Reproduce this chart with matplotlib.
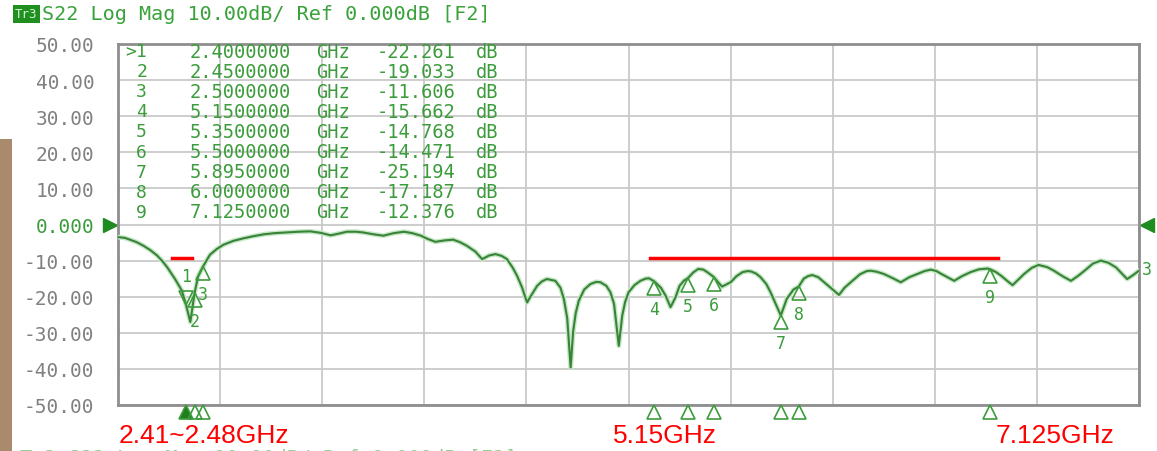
import matplotlib.pyplot as plt
from matplotlib.patches import Rectangle
from matplotlib.transforms import offset_copy, blended_transform_factory

# trace (GHz, dB)
freq = [2.00, 2.04, 2.07, 2.11, 2.15, 2.19, 2.23, 2.26, 2.29, 2.335, 2.375, 2.40, 2.425,
        2.45, 2.47, 2.50, 2.54, 2.58, 2.62, 2.68, 2.74, 2.80, 2.86, 2.92, 2.99, 3.06, 3.13,
        3.19, 3.25, 3.30, 3.345, 3.40, 3.44, 3.50, 3.56, 3.62, 3.68, 3.73, 3.78, 3.82,
        3.865, 3.92, 3.97, 4.01, 4.05, 4.10, 4.14, 4.18, 4.218, 4.255, 4.286, 4.32, 4.345,
        4.375, 4.404, 4.43, 4.463, 4.49, 4.52, 4.57, 4.60, 4.62, 4.64, 4.66, 4.675, 4.69,
        4.708, 4.74, 4.776, 4.81, 4.835, 4.87, 4.894, 4.915, 4.943, 4.963, 4.98, 5.00,
        5.035, 5.07, 5.10, 5.12, 5.15, 5.19, 5.218, 5.247, 5.276, 5.30, 5.325, 5.35, 5.38,
        5.41, 5.44, 5.463, 5.50, 5.525, 5.55, 5.60, 5.635, 5.67, 5.70, 5.72, 5.75, 5.776,
        5.81, 5.835, 5.87, 5.895, 5.93, 5.97, 6.00, 6.03, 6.055, 6.08, 6.115, 6.15, 6.20,
        6.237, 6.27, 6.306, 6.36, 6.40, 6.424, 6.46, 6.50, 6.55, 6.60, 6.65, 6.698, 6.74,
        6.776, 6.81, 6.835, 6.875, 6.914, 6.96, 7.01, 7.06, 7.11, 7.125, 7.16, 7.19, 7.225,
        7.257, 7.29, 7.325, 7.37, 7.41, 7.46, 7.50, 7.55, 7.60, 7.64, 7.68, 7.73, 7.776,
        7.82, 7.865, 7.90, 7.93, 7.96, 8.00]
s22 = [-3.5, -3.7, -4.2, -4.9, -5.9, -7.1, -8.6, -10.1, -11.9, -15.1, -18.3, -22.3, -27.0,
       -19.0, -14.5, -11.6, -8.4, -6.8, -5.6, -4.5, -3.8, -3.2, -2.7, -2.4, -2.2, -2.0, -1.9,
       -2.3, -3.0, -2.5, -2.0, -2.0, -2.2, -2.7, -3.1, -2.4, -2.0, -2.4, -3.1, -4.0,
       -4.8, -4.4, -4.2, -4.9, -5.9, -7.5, -9.6, -8.6, -8.2, -8.7, -9.6, -12.0, -14.2,
       -17.5, -21.6, -19.5, -17.0, -15.8, -15.1, -15.6, -17.5, -20.6, -26.0, -39.6, -29.5, -24.5,
       -21.1, -18.0, -16.5, -15.9, -16.0, -17.0, -18.8, -22.0, -33.6, -25.3, -21.5, -18.8,
       -16.8, -15.6, -15.0, -14.9, -15.7, -17.5, -19.7, -22.9, -20.2, -17.0, -15.6, -14.8, -13.3,
       -12.3, -12.5, -13.2, -14.5, -15.9, -17.2, -16.0, -14.3, -13.2, -12.9, -13.0, -13.6, -14.6,
       -16.5, -18.8, -22.5, -25.2, -20.6, -18.0, -17.2, -15.0, -14.3, -14.0, -14.6, -16.0, -18.0,
       -19.5, -17.5, -16.0, -13.8, -12.9, -12.8, -13.1, -13.7, -14.8, -16.0, -14.6, -13.7, -12.9,
       -12.5, -12.9, -13.6, -14.6, -15.6, -14.3, -13.2, -12.4, -12.2, -12.4, -13.2, -14.2, -15.6,
       -16.8, -15.3, -13.7, -12.0, -11.2, -11.8, -12.8, -14.3, -15.6, -14.3, -12.8, -10.8, -10.0,
       -10.6, -11.9, -13.6, -15.1, -14.2, -12.8]

marker_id = ['1', '2', '3', '4', '5', '6', '7', '8', '9']
marker_freq = [2.4, 2.45, 2.5, 5.15, 5.35, 5.5, 5.895, 6.0, 7.125]
marker_db = [-22.261, -19.033, -11.606, -15.662, -14.768, -14.471, -25.194, -17.187, -12.376]

ytick_vals = [50, 40, 30, 20, 10, 0, -10, -20, -30, -40, -50]
ytick_text = ['50.00', '40.00', '30.00', '20.00', '10.00', '0.000',
              '-10.00', '-20.00', '-30.00', '-40.00', '-50.00']

limit_y = -9.3
limit1_x = [2.32, 2.435]
limit2_x = [5.125, 7.17]
band_text = ['2.41~2.48GHz', '5.15GHz', '7.125GHz']
band_px = [204, 665, 1055]

W, H = 1157, 452
GREEN = '#3c9c3c'
MONO = 'DejaVu Sans Mono'

fig = plt.figure(figsize=(W / 100, H / 100), dpi=100)
fig.patch.set_facecolor('white')
ax = fig.add_axes([118 / W, 1 - 406 / H, (1139 - 118) / W, (406 - 45) / H])

def fx(px):
    return px / W

def fy(py):
    return 1 - py / H

# brown picture edge on the left
fig.patches.append(Rectangle((0, 0), fx(12), fy(140), transform=fig.transFigure,
                             facecolor='#a98a6c', edgecolor='none'))

ax.set_xlim(2, 8)
ax.set_ylim(-50, 50)
ax.set_xticks([2 + 0.6 * i for i in range(11)])
ax.set_xticklabels([])
ax.set_yticks(ytick_vals)
ax.set_yticklabels(ytick_text, family=MONO, fontsize=14, color='#808080')
ax.get_yticklabels()[5].set_color(GREEN)
ax.tick_params(length=0, pad=17)
ax.grid(True, color='#c9c9c9', lw=1.3)
for s in ax.spines.values():
    s.set_color('#8e8e8e')
    s.set_linewidth(2)

# trace with a soft halo
ax.plot(freq, s22, color='#c4e8c4', lw=3.5, solid_joinstyle='round', zorder=3)
ax.plot(freq, s22, color='#3a823a', lw=1.5, solid_joinstyle='round', zorder=4)

# limit lines in red
ax.plot(limit1_x, [limit_y, limit_y], color='red', lw=2.5, zorder=5)
ax.plot(limit2_x, [limit_y, limit_y], color='red', lw=2.5, zorder=5)

# markers on the trace
ms = 10
up = offset_copy(ax.transData, fig=fig, x=0, y=-ms / 2, units='points')
down = offset_copy(ax.transData, fig=fig, x=0, y=ms / 2, units='points')
lab_below = offset_copy(ax.transData, fig=fig, x=0, y=-20, units='points')
lab_above = offset_copy(ax.transData, fig=fig, x=0, y=21, units='points')
for i, (f, v) in enumerate(zip(marker_freq, marker_db)):
    if i == 0:
        ax.plot(f, v, marker='v', ms=ms, mfc='none', mec=GREEN, mew=1.2, transform=down,
                zorder=6)
        ax.text(f, v, marker_id[i], transform=lab_above, ha='center', va='center',
                family=MONO, fontsize=12, color=GREEN, zorder=6)
    else:
        ax.plot(f, v, marker='^', ms=ms, mfc='none', mec=GREEN, mew=1.2, transform=up,
                zorder=6)
        ax.text(f, v, marker_id[i], transform=lab_below, ha='center', va='center',
                family=MONO, fontsize=12, color=GREEN, zorder=6)

# marker flags under the x axis
bt = blended_transform_factory(ax.transData, ax.transAxes)
for i, f in enumerate(marker_freq):
    ax.plot(f, -0.02, marker='^', ms=10, mfc='#1f7f1f' if i == 0 else 'none',
            mec='#3c9c3c', mew=1.2, transform=bt, clip_on=False, zorder=6)

# reference level arrows
ax.plot(-0.008, 0.5, marker='>', ms=10, color='#1e8c1e', transform=ax.transAxes,
        clip_on=False)
ax.plot(1.008, 0.5, marker='<', ms=10, color='#1e8c1e', transform=ax.transAxes,
        clip_on=False)
fig.text(fx(1147), fy(270), '3', ha='center', va='center', family=MONO,
         fontsize=12, color=GREEN)

# marker table
row_y = [52 + 20.1 * i for i in range(9)]
for i in range(9):
    y = fy(row_y[i])
    tag = '>' + marker_id[i] if i == 0 else marker_id[i]
    fig.text(fx(147), y, tag, ha='right', va='center', family=MONO, fontsize=13, color=GREEN)
    fig.text(fx(240), y, '%.7f' % marker_freq[i], ha='center', va='center', family=MONO,
             fontsize=13.5, color=GREEN)
    fig.text(fx(333), y, 'GHz', ha='center', va='center', family=MONO, fontsize=13.5,
             color=GREEN)
    fig.text(fx(416), y, '%.3f' % marker_db[i], ha='center', va='center', family=MONO,
             fontsize=13.5, color=GREEN)
    fig.text(fx(487), y, 'dB', ha='center', va='center', family=MONO, fontsize=13.5,
             color=GREEN)

# title line
fig.text(fx(15), fy(15), 'Tr3', ha='left', va='center', family=MONO, fontsize=9,
         color='#d0f5d0', bbox=dict(facecolor='#1f8f1f', edgecolor='none', pad=1.5))
fig.text(fx(42), fy(15), 'S22 Log Mag 10.00dB/ Ref 0.000dB [F2]', ha='left', va='center',
         family=MONO, fontsize=14.5, color='#3aa23a')
# next screen's title, mostly cut off at the bottom
fig.text(fx(20), fy(449), 'Tr3 S22 Log Mag 10.00dB/ Ref 0.000dB [F2]', ha='left',
         va='top', family=MONO, fontsize=14.5, color='#8fcf8f')

# band labels
for t, px in zip(band_text, band_px):
    fig.text(fx(px), fy(436), t, ha='center', va='center', family='Liberation Sans',
             fontsize=19, color='red')

fig.savefig('out.png', dpi=100)
